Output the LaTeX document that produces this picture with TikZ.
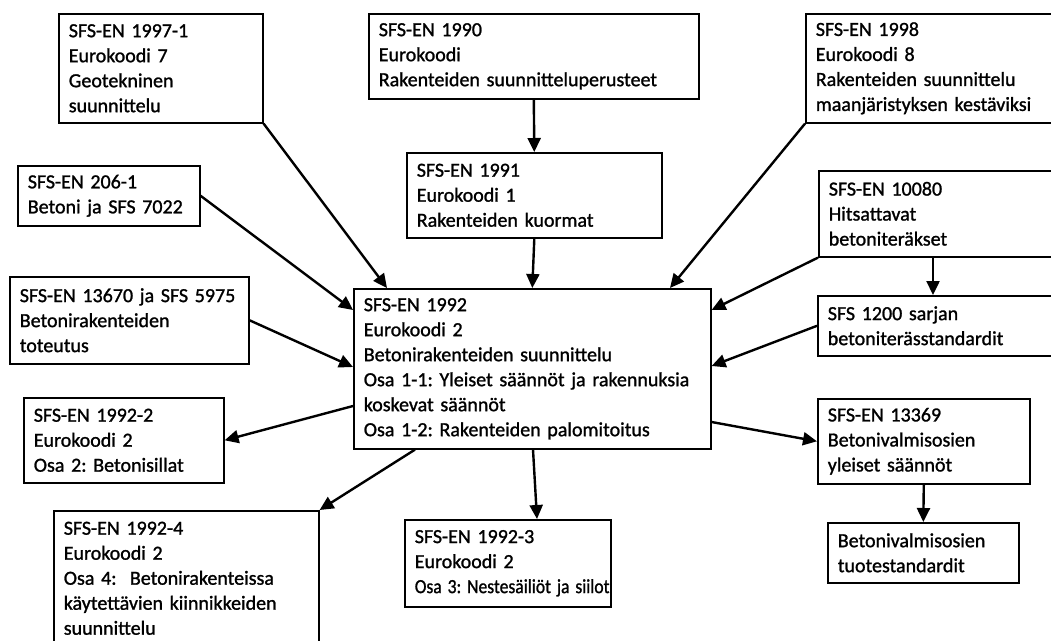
\documentclass[tikz,border=0pt]{standalone}
\usepackage{fontspec}
\usepackage{graphicx}
\setmainfont{Carlito}[FakeBold=1.2]
\usetikzlibrary{arrows.meta,calc}
\frenchspacing
\begin{document}
\begin{tikzpicture}[x=1pt,y=-1pt,
  box/.style={draw, line width=1.6pt, anchor=north west, align=left,
    inner xsep=10pt, inner ysep=0pt, font=\fontsize{20}{25}\selectfont},
  link/.style={line width=2.4pt, -{Triangle[length=14pt,width=13pt]}}]
\clip (0,0) rectangle (1051,640);
\fill[white] (0,0) rectangle (1051,640);

% standards feeding into EN 1992
\node[box, text width=184pt, minimum height=109pt] (a1997) at (58,13)
  {SFS-EN 1997-1\\Eurokoodi 7\\Geotekninen\\suunnittelu};
\node[box, text width=162pt, minimum height=60pt] (a206) at (17,165)
  {SFS-EN 206-1\\Betoni ja SFS 7022};
\node[box, text width=219pt, minimum height=87pt] (a13670) at (9,276)
  {SFS-EN 13670 ja SFS 5975\\Betonirakenteiden\\toteutus};
\node[box, text width=310pt, minimum height=85pt] (a1990) at (368,13)
  {SFS-EN 1990\\Eurokoodi\\Rakenteiden suunnitteluperusteet};
\node[box, text width=235pt, minimum height=85pt] (a1991) at (406,152)
  {SFS-EN 1991\\Eurokoodi 1\\Rakenteiden kuormat};
\node[box, text width=240pt, minimum height=109pt] (a1998) at (805,13)
  {SFS-EN 1998\\Eurokoodi 8\\Rakenteiden suunnittelu\\maanjäristyksen kestäviksi};
\node[box, text width=220pt, minimum height=86pt] (a10080) at (818,170)
  {SFS-EN 10080\\Hitsattavat\\betoniteräkset};
\node[box, text width=220pt, minimum height=60pt] (a1200) at (817,295)
  {SFS 1200 sarjan\\betoniterässtandardit};

% central standard
\node[box, text width=337pt, minimum height=160pt] (main) at (353,288)
  {SFS-EN 1992\\Eurokoodi 2\\Betonirakenteiden suunnittelu\\Osa 1-1: Yleiset säännöt ja rakennuksia\\koskevat säännöt\\Osa 1-2: Rakenteiden palomitoitus};

% dependent standards
\node[box, text width=180pt, minimum height=85pt] (a19922) at (23,397)
  {SFS-EN 1992-2\\Eurokoodi 2\\Osa 2: Betonisillat};
\node[box, text width=245pt, minimum height=135pt] (a19924) at (53,510)
  {SFS-EN 1992-4\\Eurokoodi 2\\Osa 4:\ \ Betonirakenteissa\\käytettävien kiinnikkeiden\\suunnittelu};
\node[box, text width=186pt, minimum height=87pt] (a19923) at (404,519)
  {SFS-EN 1992-3\\Eurokoodi 2\\\scalebox{0.88}[1]{Osa 3: Nestesäiliöt ja siilot}};
\node[box, text width=192pt, minimum height=85pt] (a13369) at (817,398)
  {SFS-EN 13369\\Betonivalmisosien\\yleiset säännöt};
\node[box, text width=171pt, minimum height=60pt] (atuo) at (827,522)
  {Betonivalmisosien\\tuotestandardit};

% connectors
\draw[link] (a1997.south east) -- ($(main.north west)+(34,0)$);
\draw[link] (a206.east) -- ($(main.north west)+(0,22)$);
\draw[link] (a13670.east) -- ($(main.north west)+(0,79)$);
\draw[link] ($(main.north west)+(0,118)$) -- (a19922.east);
\draw[link] (a1990.south) -- (a1991.north);
\draw[link] (a1991.south) -- (main.north);
\draw[link] (a1998.south west) -- ($(main.north west)+(317,0)$);
\draw[link] (a10080.south west) -- ($(main.north east)+(0,22)$);
\draw[link] ($(a10080.south west)+(115,0)$) -- ($(a1200.north west)+(116,0)$);
\draw[link] (a1200.west) -- ($(main.north east)+(0,78)$);
\draw[link] ($(main.north east)+(0,134)$) -- (a13369.west);
\draw[link] (a13369.south) -- (atuo.north);
\draw[link] ($(main.south west)+(180,0)$) -- ($(a19923.north west)+(133,0)$);
\draw[link] ($(main.south west)+(62,0)$) -- (a19924.north east);
\end{tikzpicture}
\end{document}
